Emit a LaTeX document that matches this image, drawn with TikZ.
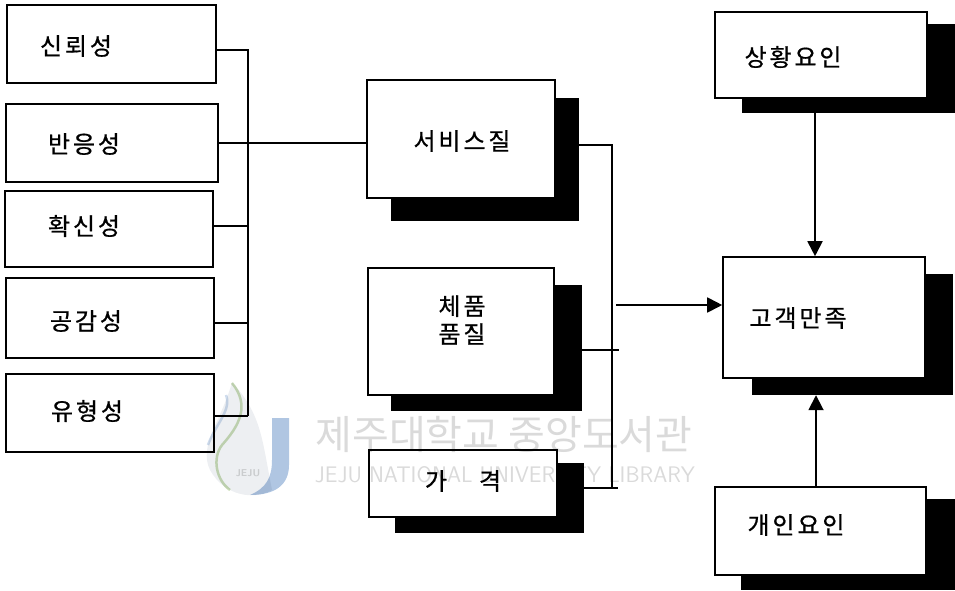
\documentclass[tikz,border=0pt]{standalone}
\usepackage{fontspec}
\newfontfamily\krfont[LetterSpace=12, FakeBold=0.7]{Noto Sans CJK KR}
\newfontfamily\wmfont{Noto Sans CJK KR}
\usetikzlibrary{fit,arrows.meta}
\definecolor{wmgray}{HTML}{DADADA}
\definecolor{wmblue}{HTML}{B0C6E2}
\definecolor{wmgreen}{HTML}{CBDDB8}
\definecolor{wmdrop}{HTML}{EDEFF2}
\tikzset{
    boxed/.style={draw, line width=1.6pt, fill=white, inner sep=0pt, fit={#1}},
    shadowed/.style={fill=black, inner sep=0pt, fit={#1}},
    lbl/.style={inner sep=0pt, font=\krfont\fontsize{24}{28}\selectfont},
    link/.style={line width=1.4pt},
    heavy/.style={line width=2.4pt},
    pointer/.style={line width=1.8pt, -{Triangle[length=15pt,width=15pt]}},
}
\begin{document}
\begin{tikzpicture}[x=1pt, y=-1pt]
    \useasboundingbox (0,0) rectangle (955,590);

    \node[shadowed={(391,98) (579,221)}] (svcs) {};
    \node[shadowed={(391,285) (582,411)}] (prods) {};
    \node[shadowed={(395,463) (584,533)}] (pris) {};
    \node[shadowed={(742,24) (955,113)}] (sits) {};
    \node[shadowed={(752,274) (953,395)}] (sats) {};
    \node[shadowed={(741,499) (955,590)}] (pers) {};

    \node[boxed={(7,5) (216,83)}] (u1) {};
    \node[boxed={(6,104) (218,182)}] (u2) {};
    \node[boxed={(5,191) (213,267)}] (u3) {};
    \node[boxed={(6,278) (214,358)}] (u4) {};
    \node[boxed={(6,374) (214,452)}] (u5) {};
    \node[boxed={(367,80) (555,198)}] (svc) {};
    \node[boxed={(368,268) (554,395)}] (prod) {};
    \node[boxed={(369,450) (557,517)}] (pri) {};
    \node[boxed={(715,12) (927,98)}] (sit) {};
    \node[boxed={(723,257) (925,378)}] (sat) {};
    \node[boxed={(715,487) (926,575)}] (per) {};

    \node[lbl] (t1) at (76,46) {신뢰성};
    \node[lbl] (t2) at (84,144) {반응성};
    \node[lbl] (t3) at (84,226) {확신성};
    \node[lbl] (t4) at (86,321) {공감성};
    \node[lbl] (t5) at (87,411) {유형성};
    \node[lbl] (t6) at (462,141) {서비스질};
    \node[lbl, align=center] (t7) at (462,320) {체품\\품질};
    \node[lbl] (t8) at (463,481) {가\hspace{32pt}격};
    \node[lbl] (t9) at (793,57) {상황요인};
    \node[lbl] (t10) at (798,318) {고객만족};
    \node[lbl] (t11) at (796,525) {개인요인};

    \coordinate (b1) at (248,50);
    \coordinate (b2) at (248,143);
    \coordinate (b3) at (248,226);
    \coordinate (b4) at (248,323);
    \coordinate (b5) at (248,416);
    \coordinate (r1) at (612,145);
    \coordinate (r2) at (619,350);
    \coordinate (r3) at (612,488);
    \coordinate (r4) at (618,488);
    \coordinate (r5) at (616,305);

    \draw[heavy] (u1.east |- b1) -- (b1) -- (b5);
    \draw[link] (b5) -- (u5.east |- b5);
    \draw[link] (u2.east |- b2) -- (svc.west |- b2);
    \draw[link] (u3.east |- b3) -- (b3);
    \draw[link] (u4.east |- b4) -- (b4);

    \draw[link] (svcs.east |- r1) -- (r1) -- (r3);
    \draw[link] (prods.east |- r2) -- (r2);
    \draw[link] (pris.east |- r4) -- (r4);
    \draw[pointer] (r5) -- (sat.west |- r5);

    \draw[pointer] (sits.south -| 815,0) -- (sat.north -| 815,0);
    \draw[pointer] (per.north -| 816,0) -- (sats.south -| 816,0);

    % watermark
    \begin{scope}[blend mode=multiply]
        \fill[wmdrop] (232,382) .. controls (262,415) and (262,440) .. (272,490) .. controls (255,500) and (225,497) .. (210,470) .. controls (198,445) and (222,420) .. cycle;
        \fill[wmblue] (272,418) -- (289,418) -- (289,465) .. controls (289,485) and (275,495) .. (250,495) .. controls (266,488) and (272,478) .. (272,460) -- cycle;
        \draw[wmgreen, line width=2.5pt] (232,383) .. controls (250,405) and (240,425) .. (222,445) .. controls (212,458) and (216,480) .. (230,490);
        \draw[wmblue!60, line width=2.5pt] (226,395) .. controls (232,410) and (215,425) .. (208,445);
        \node[inner sep=0pt, text=wmgray, font=\sffamily\bfseries\fontsize{10}{12}\selectfont] (wm3) at (248,473) {JEJU};
        \node[inner sep=0pt, text=wmgray, font=\wmfont\fontsize{40}{42}\selectfont] (wm1) at (504,434) {제주대학교 중앙도서관};
        \node[inner sep=0pt, text=wmgray, font=\sffamily\fontsize{22.5}{24}\selectfont] (wm2) at (505,475) {JEJU NATIONAL UNIVERSITY LIBRARY};
    \end{scope}
\end{tikzpicture}
\end{document}
